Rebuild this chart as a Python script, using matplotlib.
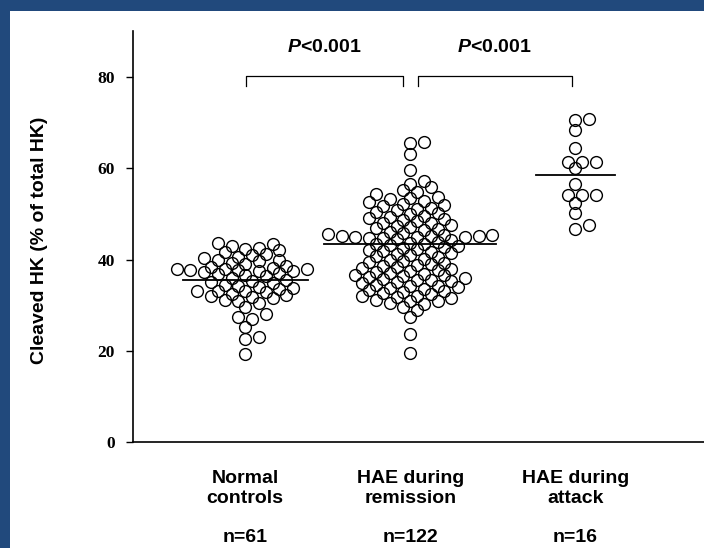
import numpy as np
import matplotlib.pyplot as plt
from matplotlib.patches import Rectangle

plt.rcParams['font.family'] = ['Liberation Sans', 'DejaVu Sans']
plt.rcParams['mathtext.fontset'] = 'custom'
plt.rcParams['mathtext.bfit'] = 'Liberation Sans:italic:bold'

# cleaved HK values
normal = [19.2, 22.5, 23.0, 25.3, 27.0, 27.5, 28.0, 29.6,
          30.5, 31.0, 31.2, 31.5, 31.8, 32.0, 32.3, 32.5, 32.8, 33.0, 33.0, 33.2,
          33.5, 33.8, 34.0, 34.2, 34.5, 34.8,
          35.0, 35.3, 35.6, 36.0, 36.3, 36.6, 36.8, 37.0, 37.2, 37.4, 37.5, 37.6,
          37.8, 38.0, 38.0, 38.0, 38.2, 38.4, 38.6,
          39.0, 39.3, 39.6, 40.0, 40.0, 40.3, 40.6, 41.0, 41.3, 41.6, 42.0, 42.3,
          42.6, 43.0, 43.5, 43.7]
remission = [19.5, 23.7, 27.5, 28.9, 29.6,
             30.2, 30.5, 30.8, 31.0, 31.2, 31.5, 31.7, 31.9,
             32.1, 32.4, 32.6, 32.9, 33.1, 33.3, 33.6, 33.8, 33.9,
             34.1, 34.3, 34.5, 34.8, 35.0, 35.2, 35.4, 35.6, 35.8, 35.9,
             36.1, 36.3, 36.5, 36.7, 36.9, 37.1, 37.3, 37.5, 37.7, 37.9,
             38.1, 38.3, 38.5, 38.8, 39.0, 39.2, 39.4, 39.7, 39.9,
             40.2, 40.5, 40.7, 41.0, 41.2, 41.5, 41.7, 41.9,
             42.1, 42.3, 42.5, 42.7, 42.9, 43.1, 43.3, 43.5, 43.7, 43.9,
             44.2, 44.5, 44.7, 44.8, 44.9, 45.0, 45.0, 45.1, 45.1, 45.2, 45.3, 45.4,
             45.6, 45.8,
             46.1, 46.4, 46.6, 46.9, 47.1, 47.4, 47.6, 47.9,
             48.1, 48.4, 48.6, 48.9, 49.1, 49.4, 49.6, 49.9,
             50.2, 50.5, 50.8, 51.1, 51.4, 51.7, 51.9,
             52.2, 52.5, 52.9, 53.2, 53.5, 53.8,
             54.3, 54.8, 55.3, 55.8, 56.5, 57.3, 59.6, 63.1, 65.5, 65.7]
attack = [46.7, 47.6, 50.2, 52.4, 54.1, 54.1, 54.1, 56.5,
          60.1, 61.4, 61.4, 61.4, 64.5, 68.4, 70.6, 70.9]
means = [35.4, 43.4, 58.5]
group_names = ['Normal\ncontrols', 'HAE during\nremission', 'HAE during\nattack']
group_counts = ['n=61', 'n=122', 'n=16']
p_labels = [r'$\mathbfit{P}$<0.001', r'$\mathbfit{P}$<0.001']

W, H = 704, 548
fig = plt.figure(figsize=(W / 100, H / 100), dpi=100, facecolor='#21497c')
fig.patches.append(Rectangle((10 / W, 0), 1, (H - 11) / H, transform=fig.transFigure,
                             facecolor='white', edgecolor='none', zorder=-10))

ax = fig.add_axes([133 / W, 106 / H, (W - 133) / W, 410.6 / H])
ax.set_facecolor('none')
ax.set_xlim(0.32, 3.78)
ax.set_ylim(0, 90)

# simple beeswarm in pixel space
d = 11.8
def swarm(vals, pos):
    pts = ax.transData.transform(np.column_stack([np.full(len(vals), pos), np.sort(vals)]))
    cx = pts[0, 0]
    placed = []
    for px, py in pts:
        for k in [0, 1, -1, 2, -2, 3, -3, 4, -4, 5, -5, 6, -6, 7, -7, 8, -8, 9, -9, 10, -10,
                  11, -11, 12, -12, 13, -13, 14, -14]:
            x = cx + k * d * 0.58
            if all((x - qx) ** 2 + (py - qy) ** 2 >= (0.73 * d) ** 2 for qx, qy in placed):
                break
        placed.append((x, py))
    return ax.transData.inverted().transform(np.array(placed))

half = [0.38, 0.52, 0.24]
for i, vals in enumerate([normal, remission, attack]):
    xy = swarm(vals, i + 1)
    ax.plot(xy[:, 0], xy[:, 1], 'o', ms=8.5, mfc='none', mec='black', mew=1.0, zorder=3)
    ax.plot([i + 1 - half[i], i + 1 + half[i]], [means[i]] * 2, color='black', lw=1.3, zorder=2)
    ax.text(i + 1, -0.113, group_names[i], transform=ax.get_xaxis_transform(),
            ha='center', va='center', fontsize=14, fontweight='bold', linespacing=1.2)
    ax.text(i + 1, -0.233, group_counts[i], transform=ax.get_xaxis_transform(),
            ha='center', va='center', fontsize=14, fontweight='bold')

# significance brackets
for j, (a, b) in enumerate([(1.005, 1.955), (2.045, 2.98)]):
    ax.plot([a, a, b, b], [78, 80.3, 80.3, 78], color='black', lw=0.9, clip_on=False)
    ax.text((a + b) / 2, 86.4, p_labels[j], ha='center', va='center',
            fontsize=14, fontweight='bold')

for s in ['top', 'right']:
    ax.spines[s].set_visible(False)
for s in ['left', 'bottom']:
    ax.spines[s].set_linewidth(1.2)
ax.set_xticks([])
ax.set_yticks([0, 20, 40, 60, 80])
ax.tick_params(axis='y', length=5, width=1, pad=8)
for lab in ax.get_yticklabels():
    lab.set_family('Liberation Serif')
    lab.set_fontweight('bold')
    lab.set_fontsize(12.5)

fig.text(40 / W, 1 - 240 / H, 'Cleaved HK (% of total HK)', rotation=90,
         ha='center', va='center', fontsize=14, fontweight='bold')

fig.savefig('out.png', dpi=100, facecolor=fig.get_facecolor())
